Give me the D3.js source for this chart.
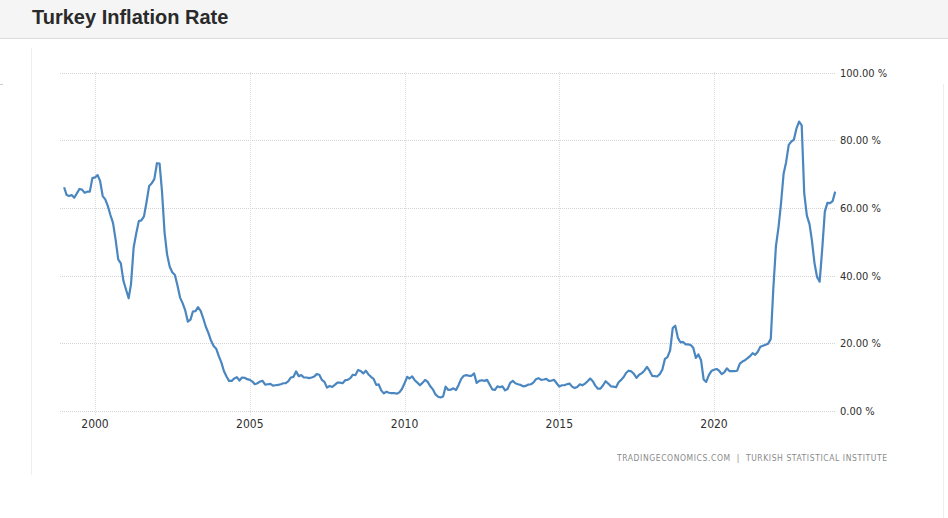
<!DOCTYPE html>
<html lang="en">
<head>
<meta charset="UTF-8">
<title>Turkey Inflation Rate</title>
<script src="https://d3js.org/d3.v7.min.js"></script>
<style>
  body { margin: 0; background: #fff; }
  svg { display: block; }
</style>
</head>
<body>
<div id="chart"></div>
<script>
    const width = 948, height = 518;

    // monthly annual CPI inflation, Jan 1999 .. Dec 2023
    const firstMonth = [1999, 0];
    const inflation = [
        66.1, 63.8, 63.5, 63.8, 63.0, 64.3, 65.6, 65.4, 64.5, 64.8, 64.8, 68.8,
        69.0, 69.7, 68.0, 63.5, 62.5, 60.5, 57.9, 55.5, 50.5, 44.8, 43.6, 38.5,
        35.9, 33.3, 37.5, 48.3, 52.4, 56.1, 56.3, 57.5, 61.8, 66.5, 67.3, 68.5,
        73.2, 73.1, 65.1, 52.7, 46.2, 42.6, 41.0, 40.2, 37.0, 33.5, 31.8, 29.7,
        26.4, 27.0, 29.4, 29.5, 30.7, 29.6, 27.4, 24.9, 23.0, 20.8, 19.2, 18.4,
        16.2, 14.3, 11.8, 10.2, 8.9, 8.9, 9.6, 10.0, 9.0, 9.9, 9.8, 9.4,
        9.2, 8.7, 7.9, 8.2, 8.7, 8.9, 7.8, 7.9, 8.0, 7.5, 7.6, 7.7,
        7.9, 8.2, 8.2, 8.8, 9.9, 10.1, 11.7, 10.3, 10.6, 9.9, 9.9, 9.7,
        9.9, 10.2, 10.9, 10.7, 9.2, 8.6, 6.9, 7.4, 7.1, 7.7, 8.4, 8.4,
        8.2, 9.1, 9.2, 9.7, 10.7, 10.6, 12.1, 11.8, 11.1, 11.9, 10.8, 10.1,
        9.5, 7.7, 7.9, 6.1, 5.2, 5.7, 5.4, 5.3, 5.3, 5.1, 5.5, 6.5,
        8.2, 10.1, 9.6, 10.2, 9.1, 8.4, 7.6, 8.3, 9.2, 8.6, 7.3, 6.4,
        4.9, 4.2, 4.0, 4.3, 7.2, 6.2, 6.3, 6.7, 6.2, 7.7, 9.5, 10.4,
        10.6, 10.4, 10.4, 11.1, 8.3, 8.9, 9.1, 8.9, 9.2, 7.8, 6.4, 6.2,
        7.3, 7.0, 7.3, 6.1, 6.5, 8.3, 8.9, 8.2, 7.9, 7.7, 7.3, 7.4,
        7.8, 7.9, 8.4, 9.4, 9.7, 9.2, 9.3, 9.5, 8.9, 9.0, 9.2, 8.2,
        7.2, 7.6, 7.6, 7.9, 8.1, 7.2, 6.8, 7.1, 7.9, 7.6, 8.1, 8.8,
        9.6, 8.8, 7.5, 6.6, 6.6, 7.6, 8.8, 8.1, 7.3, 7.2, 7.0, 8.5,
        9.2, 10.1, 11.3, 11.9, 11.7, 10.9, 9.8, 10.7, 11.2, 11.9, 13.0, 11.9,
        10.4, 10.3, 10.2, 10.9, 12.2, 15.4, 15.9, 17.9, 24.5, 25.2, 21.6, 20.3,
        20.4, 19.7, 19.7, 19.5, 18.7, 15.7, 16.7, 15.0, 9.3, 8.6, 10.6, 11.8,
        12.2, 12.4, 11.9, 10.9, 11.4, 12.6, 11.8, 11.8, 11.8, 11.9, 14.0, 14.6,
        15.0, 15.6, 16.2, 17.1, 16.6, 17.5, 19.0, 19.3, 19.6, 19.9, 21.3, 36.1,
        48.7, 54.4, 61.1, 70.0, 73.5, 78.6, 79.6, 80.2, 83.5, 85.5, 84.4, 64.3,
        57.7, 55.2, 50.5, 43.7, 39.6, 38.2, 47.8, 58.9, 61.5, 61.4, 62.0, 64.8
    ];
    const yTicks = [0, 20, 40, 60, 80, 100];
    const xTickYears = [2000, 2005, 2010, 2015, 2020];
    const title = "Turkey Inflation Rate";
    const source = "TRADINGECONOMICS.COM  |  TURKISH STATISTICAL INSTITUTE";

    const data = inflation.map((v, i) => ({
        date: new Date(firstMonth[0], firstMonth[1] + i, 1),
        value: v
    }));

    const svg = d3.select("#chart").append("svg")
        .attr("width", width)
        .attr("height", height);

    // header strip
    svg.append("rect")
        .attr("x", 0).attr("y", 0)
        .attr("width", width).attr("height", 38)
        .attr("fill", "#f5f5f5");
    svg.append("line")
        .attr("x1", 0).attr("x2", width)
        .attr("y1", 38.5).attr("y2", 38.5)
        .attr("stroke", "#dcdcdc");
    svg.append("text")
        .attr("x", 32).attr("y", 24)
        .attr("font-family", "Liberation Sans, Arial, sans-serif")
        .attr("font-weight", "bold")
        .attr("font-size", 20)
        .attr("fill", "#2a2a2a")
        .text(title);

    // faint panel borders
    svg.append("line")
        .attr("x1", 31.5).attr("x2", 31.5).attr("y1", 48).attr("y2", 475)
        .attr("stroke", "#eeeeee");
    svg.append("line")
        .attr("x1", 943.5).attr("x2", 943.5).attr("y1", 84).attr("y2", height)
        .attr("stroke", "#eeeeee");
    svg.append("line")
        .attr("x1", 0).attr("x2", 3).attr("y1", 84.5).attr("y2", 84.5)
        .attr("stroke", "#cccccc");

    const x = d3.scaleTime()
        .domain([new Date(2000, 0, 1), new Date(2020, 0, 1)])
        .range([95, 714]);
    const y = d3.scaleLinear()
        .domain([0, 100])
        .range([411, 72.5]);

    const plotLeft = 60, plotRight = 835;

    // horizontal grid + y labels
    const yg = svg.append("g");
    yg.selectAll("line").data(yTicks).join("line")
        .attr("x1", plotLeft).attr("x2", plotRight)
        .attr("y1", d => Math.round(y(d)) + 0.5)
        .attr("y2", d => Math.round(y(d)) + 0.5)
        .attr("stroke", "#d4d4d4")
        .attr("stroke-dasharray", "1,1");
    yg.selectAll("text").data(yTicks).join("text")
        .attr("x", 840)
        .attr("y", d => y(d) + 4)
        .attr("font-family", "DejaVu Sans Condensed, DejaVu Sans, sans-serif")
        .attr("font-size", 11)
        .attr("fill", "#2f2f2f")
        .text(d => d3.format(".2f")(d) + " %");

    // vertical grid + x labels
    const xg = svg.append("g");
    xg.selectAll("line").data(xTickYears).join("line")
        .attr("x1", d => Math.round(x(new Date(d, 0, 1))) + 0.5)
        .attr("x2", d => Math.round(x(new Date(d, 0, 1))) + 0.5)
        .attr("y1", 72).attr("y2", 416)
        .attr("stroke", "#dedede")
        .attr("stroke-dasharray", "1,1");
    xg.selectAll("text").data(xTickYears).join("text")
        .attr("x", d => x(new Date(d, 0, 1)))
        .attr("y", 428)
        .attr("text-anchor", "middle")
        .attr("font-family", "DejaVu Sans Condensed, DejaVu Sans, sans-serif")
        .attr("font-size", 12)
        .attr("fill", "#2f2f2f")
        .text(d => d);

    // series line
    const line = d3.line()
        .x(d => x(d.date))
        .y(d => y(d.value));
    svg.append("path")
        .datum(data)
        .attr("d", line)
        .attr("fill", "none")
        .attr("stroke", "#4a86bf")
        .attr("stroke-width", 2.2)
        .attr("stroke-linejoin", "round");

    // source note
    svg.append("text")
        .attr("x", 617).attr("y", 461)
        .attr("font-family", "DejaVu Sans Condensed, DejaVu Sans, sans-serif")
        .attr("font-size", 8.5)
        .attr("fill", "#8a8a8a")
        .attr("textLength", 270)
        .attr("lengthAdjust", "spacing")
        .style("white-space", "pre")
        .text(source);
</script>
</body>
</html>
